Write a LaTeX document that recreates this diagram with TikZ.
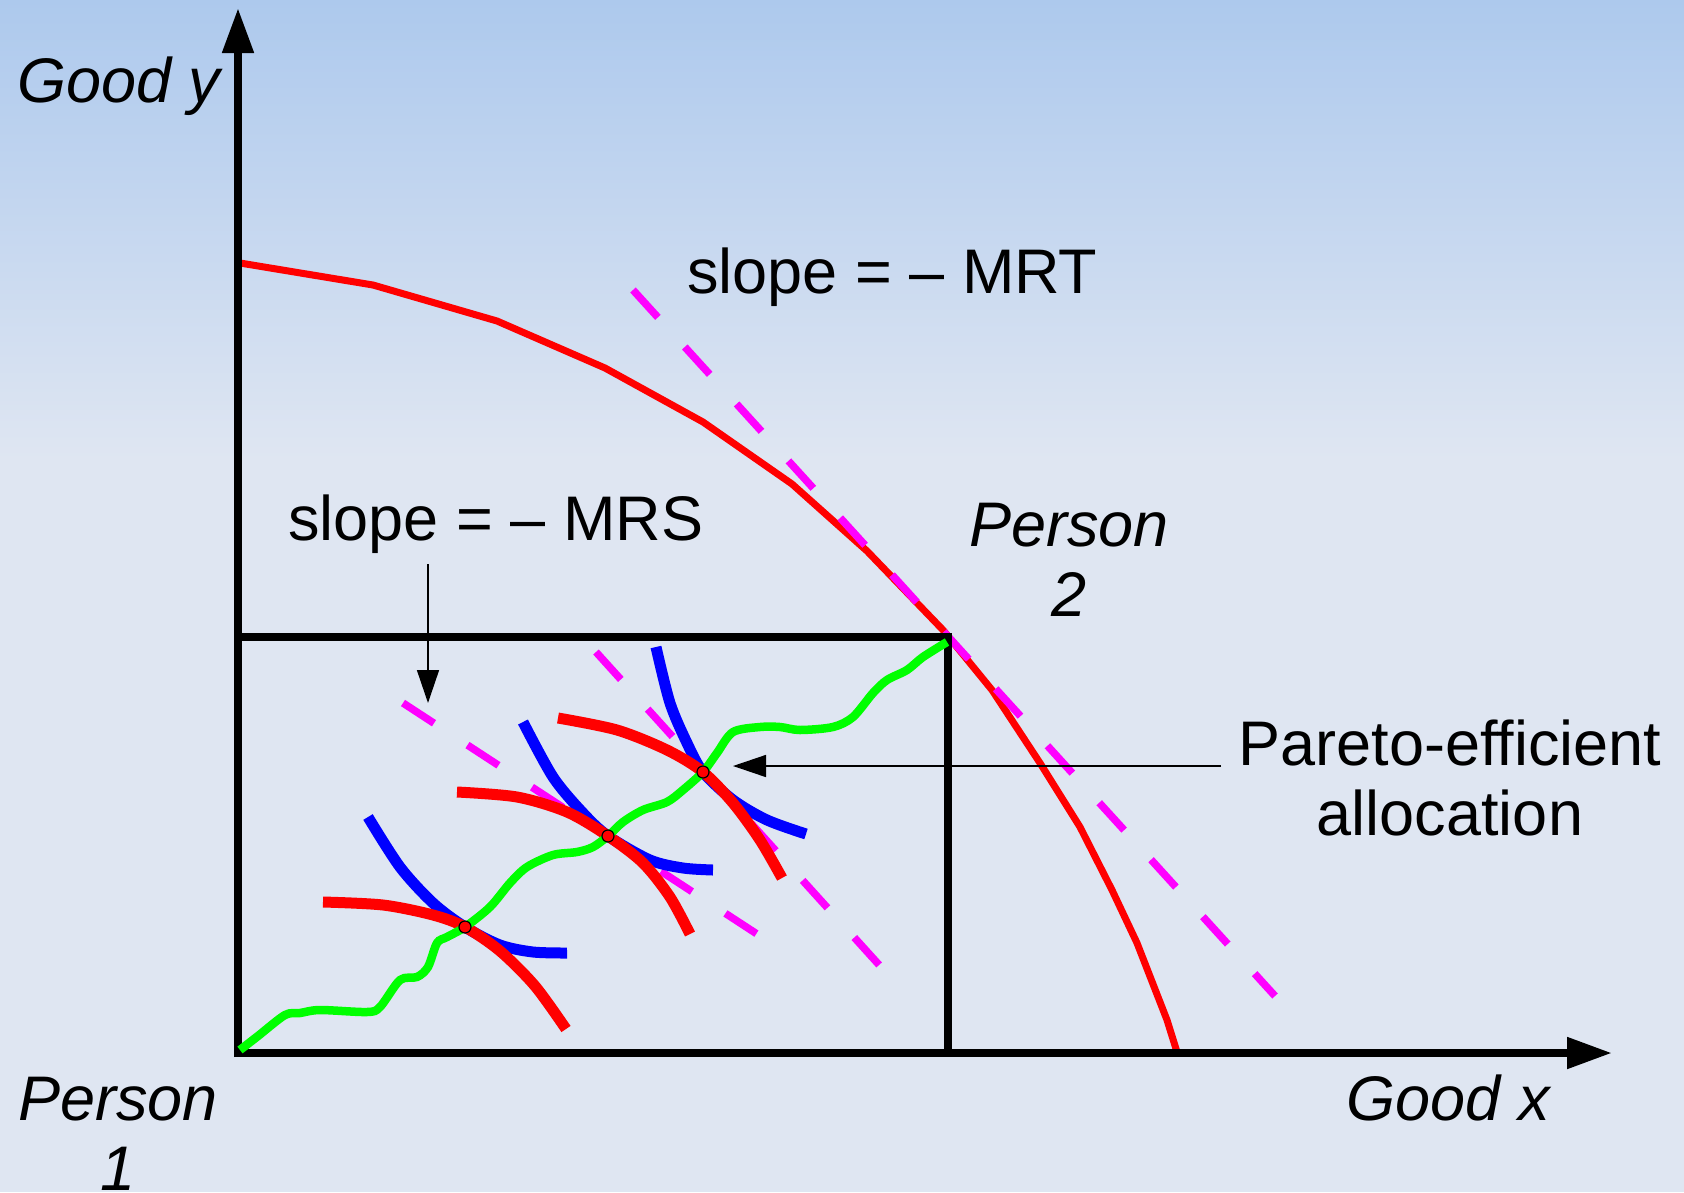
\documentclass[tikz,border=0pt]{standalone}
\usepackage{fontspec}
\setmainfont{Liberation Sans}
\usetikzlibrary{arrows.meta}
\definecolor{bgtop}{RGB}{173,201,237}
\definecolor{bgbot}{RGB}{223,230,242}
\definecolor{pinkline}{RGB}{255,0,255}
\definecolor{greenline}{RGB}{0,255,0}
\tikzset{
  axisline/.style={line width=8pt, black, -{Triangle[length=45pt,width=30pt]}},
  boxline/.style={line width=8pt, black},
  ppfline/.style={line width=7pt, red, line join=miter},
  slopeline/.style={line width=7.5pt, pinkline, dash pattern=on 37pt off 40pt},
  indiffblue/.style={line width=11pt, blue},
  indiffred/.style={line width=11pt, red},
  contract/.style={line width=8.5pt, greenline},
  effdot/.style={circle, fill=red, draw=black, line width=1.2pt, minimum size=12pt, inner sep=0pt},
  pointer/.style={line width=1.5pt, black, -{Triangle[length=33pt,width=22pt]}},
  lbl/.style={inner sep=0pt, anchor=base, font=\fontsize{63}{70}\selectfont},
  ilbl/.style={lbl, font=\fontsize{63}{70}\selectfont\itshape, align=center},
}
\begin{document}
\begin{tikzpicture}[x=1pt,y=-1pt]
\useasboundingbox (0,0) rectangle (1684,1192);
% background
\shade[top color=bgtop, bottom color=bgbot] (0,0) rectangle (1684,460);
\fill[bgbot] (0,459) rectangle (1684,1192);

% coordinates
\coordinate (O) at (238,1053);
\coordinate (ytip) at (238,8);
\coordinate (xtip) at (1612,1053);
\coordinate (yleft) at (238,637);
\coordinate (corner) at (948,637);
\coordinate (xbot) at (948,1053);

% production possibility frontier
\draw[ppfline] (240,263) -- (373,285) -- (497,321) -- (605,368) -- (703,422) -- (792,484) -- (867,551) -- (943,630) -- (992,690) -- (1040,763) -- (1080,827) -- (1112,890) -- (1137,943) -- (1167,1020) -- (1177,1052);

% MRT line
\coordinate (mrtA) at (633,290);
\coordinate (mrtB) at (1275,996);
\draw[slopeline] (mrtA) -- (mrtB);

% axes and box
\draw[boxline] (yleft) -- (corner) -- (xbot);
\draw[axisline] (238,1057) -- (ytip);
\draw[axisline] (234,1053) -- (xtip);

% MRS line and parallel to MRT
\coordinate (mrsA) at (403,703);
\coordinate (mrsB) at (757,934);
\draw[slopeline] (mrsA) -- (mrsB);
\coordinate (parA) at (596,652);
\coordinate (parB) at (881,967);
\draw[slopeline] (parA) -- (parB);

% indifference curves
\draw[indiffblue] plot[smooth] coordinates {(368,817) (400,867) (433,903) (465,927) (500,945) (533,952) (567,953)};
\draw[indiffblue] plot[smooth] coordinates {(523,722) (553,777) (583,813) (608,836) (650,860) (683,868) (713,870)};
\draw[indiffblue] plot[smooth] coordinates {(656,647) (670,703) (687,743) (703,772) (733,800) (767,820) (806,834)};
\draw[indiffred] plot[smooth] coordinates {(323,902) (383,905) (433,915) (465,927) (500,951) (535,986) (566,1029)};
\draw[indiffred] plot[smooth] coordinates {(457,792) (517,797) (567,812) (608,836) (643,863) (670,897) (690,934)};
\draw[indiffred] plot[smooth] coordinates {(558,718) (617,730) (667,750) (703,772) (733,803) (760,840) (782,878)};

% contract curve
\draw[contract] plot[smooth, tension=0.5] coordinates {(240,1050) (258,1036) (285,1015) (300,1013) (320,1010) (367,1012) (380,1007) (400,980) (417,977) (428,967) (437,943) (447,937) (465,927) (490,907) (510,883) (527,867) (553,855) (577,852) (593,847) (608,836) (623,822) (643,810) (667,802) (683,790) (703,772) (717,753) (733,732) (760,727) (780,727) (800,730) (833,727) (853,717) (873,693) (887,680) (907,670) (923,657) (947,642)};

% efficient points
\node[effdot] (p1) at (465,927) {};
\node[effdot] (p2) at (608,836) {};
\node[effdot] (p3) at (703,772) {};

% labels (multi-line nodes: base = baseline of last line)
\node[ilbl] (goody) at (119,102) {Good y};
\node[ilbl] (goodx) at (1448,1120) {Good x};
\node[ilbl] (person1) at (118,1190) {Person\\1};
\node[ilbl] (person2) at (1069,616) {Person\\2};
\node[lbl, anchor=base west] (mrt) at (687,293) {slope = – MRT};
\node[lbl, anchor=base west] (mrs) at (288,540) {slope = – MRS};
\node[lbl, align=center] (pareto) at (1450,835) {Pareto-efficient\\allocation};

% pointers
\coordinate (mrsstart) at (428,564);
\coordinate (mrsend) at (428,703);
\draw[pointer] (mrsstart) -- (mrsend);
\coordinate (parstart) at (1221,766);
\coordinate (parend) at (733,766);
\draw[pointer] (parstart) -- (parend);
\end{tikzpicture}
\end{document}
